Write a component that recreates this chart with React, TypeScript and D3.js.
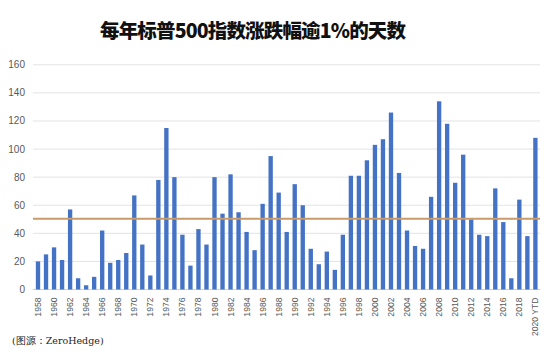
import React from "react";
import * as d3 from "d3";

const years: string[] = [
  "1958","1959","1960","1961","1962","1963","1964","1965","1966","1967",
  "1968","1969","1970","1971","1972","1973","1974","1975","1976","1977",
  "1978","1979","1980","1981","1982","1983","1984","1985","1986","1987",
  "1988","1989","1990","1991","1992","1993","1994","1995","1996","1997",
  "1998","1999","2000","2001","2002","2003","2004","2005","2006","2007",
  "2008","2009","2010","2011","2012","2013","2014","2015","2016","2017",
  "2018","2019","2020 YTD",
];

const days: number[] = [
  20, 25, 30, 21, 57, 8, 3, 9, 42, 19,
  21, 26, 67, 32, 10, 78, 115, 80, 39, 17,
  43, 32, 80, 54, 82, 55, 41, 28, 61, 95,
  69, 41, 75, 60, 29, 18, 27, 14, 39, 81,
  81, 92, 103, 107, 126, 83, 42, 31, 29, 66,
  134, 118, 76, 96, 50, 39, 38, 72, 48, 8,
  64, 38, 108,
];

const averageDays = 50.4;
const yTicks: number[] = [0, 20, 40, 60, 80, 100, 120, 140, 160];
const title = "每年标普500指数涨跌幅逾1%的天数";
const source = "(图源：ZeroHedge)";

export default function App() {
  const W = 554;
  const H = 361;
  const x = d3
    .scaleBand<string>()
    .domain(years)
    .range([34, 539.4])
    .paddingInner(0.46)
    .paddingOuter(0.23);
  const y = d3.scaleLinear().domain([0, 160]).range([289.5, 64.8]);

  return (
    <svg
      width={W}
      height={H}
      style={{ position: "absolute", left: 0, top: 0, background: "#fff" }}
    >
      <rect width={W} height={H} fill="#fff" />
      <text
        x={253}
        y={38}
        textAnchor="middle"
        fontFamily="'Noto Sans CJK SC', sans-serif"
        fontWeight={900}
        fontSize={19.5}
        fill="#111"
        textLength={306}
        lengthAdjust="spacing"
      >
        {title}
      </text>
      {yTicks.map((t) => (
        <g key={t}>
          <line
            x1={33}
            x2={540}
            y1={y(t)}
            y2={y(t)}
            stroke={t === 0 ? "#d0d0d0" : "#e3e3e3"}
            strokeWidth={1}
          />
          <text
            x={25}
            y={y(t)}
            dy="0.35em"
            textAnchor="end"
            fontFamily="'Liberation Sans', Arial, sans-serif"
            fontSize={10}
            fill="#595959"
          >
            {t}
          </text>
        </g>
      ))}
      {years.map((yr, i) => (
        <rect
          key={yr}
          x={x(yr)}
          y={y(days[i])}
          width={x.bandwidth()}
          height={y(0) - y(days[i])}
          fill="#4472C4"
        />
      ))}
      <line
        x1={33}
        x2={540}
        y1={y(averageDays)}
        y2={y(averageDays)}
        stroke="#c99a6a"
        strokeWidth={2}
      />
      {years.map((yr, i) =>
        i % 2 === 0 ? (
          <text
            key={"l" + yr}
            transform={`translate(${(x(yr) as number) + x.bandwidth() / 2},297.5) rotate(-90)`}
            dy="0.35em"
            textAnchor="end"
            fontFamily="'Liberation Sans', Arial, sans-serif"
            fontSize={8.6}
            fill="#595959"
          >
            {yr}
          </text>
        ) : null
      )}
      <text
        x={12}
        y={344}
        fontFamily="'DejaVu Serif', serif"
        fontSize={9.5}
        fill="#222"
      >
        {source}
      </text>
    </svg>
  );
}
